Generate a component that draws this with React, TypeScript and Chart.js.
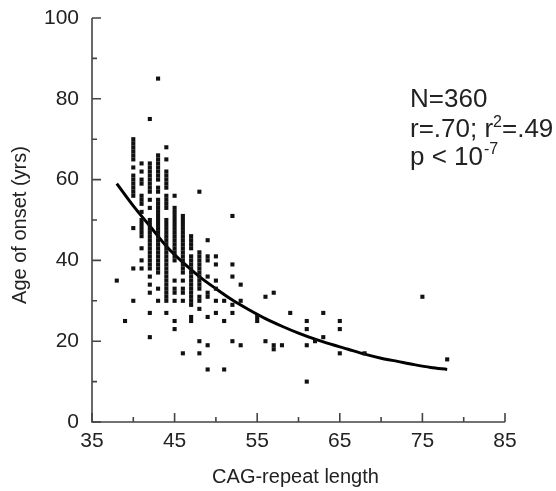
import React, { useEffect, useRef } from "react";
import { Chart, registerables } from "chart.js";

Chart.register(...registerables);

// CAG-repeat length columns and the onset ages read at each column
const repeatColumns = [38, 39, 40, 41, 42, 43, 44, 45, 46, 47, 48, 49, 50, 51, 52, 53, 55, 56, 57, 58, 59, 61, 62, 63, 65, 68, 75, 78];
const onsetAgesByRepeat = [
  [35],
  [25],
  [70, 69, 68, 67, 66, 65, 63, 61, 60, 59, 58, 57, 56, 48, 38, 30],
  [64, 62, 60, 59, 56, 55, 54, 52, 50, 49, 48, 47, 46, 43, 40, 38],
  [75, 64, 63, 62, 61, 60, 59, 58, 57, 55, 53, 50, 49, 48, 47, 46, 45, 44, 43, 42, 41, 40, 39, 38, 36, 34, 32, 27, 21],
  [85, 66, 65, 64, 63, 62, 61, 60, 58, 57, 55, 54, 53, 52, 51, 50, 49, 48, 47, 46, 45, 44, 43, 42, 41, 40, 39, 38, 37, 33, 30],
  [68, 65, 62, 61, 60, 59, 58, 56, 55, 54, 53, 50, 49, 48, 47, 46, 45, 44, 43, 42, 41, 40, 39, 38, 37, 36, 35, 34, 33, 32, 31, 30, 27],
  [56, 53, 52, 51, 50, 49, 48, 47, 46, 45, 44, 43, 42, 41, 40, 35, 33, 32, 30, 25, 23],
  [51, 50, 49, 48, 47, 46, 45, 44, 43, 42, 41, 40, 39, 38, 37, 35, 33, 32, 30, 17],
  [46, 45, 44, 43, 41, 40, 39, 38, 37, 36, 35, 34, 33, 32, 31, 30, 29, 26, 25],
  [57, 42, 41, 40, 39, 38, 37, 36, 35, 34, 33, 31, 30, 28, 20, 17],
  [45, 41, 40, 36, 32, 31, 26, 19, 13],
  [41, 39, 35, 33, 30, 27],
  [30, 25, 13],
  [51, 39, 36, 29, 27, 20],
  [34, 30, 19],
  [26, 25],
  [31, 20],
  [32, 19, 18],
  [19],
  [27],
  [25, 23, 19, 10],
  [20],
  [27, 21],
  [25, 23, 17],
  [17],
  [31],
  [15.5],
];

// Fitted curve
const fitRepeat = [38, 40, 42, 44, 46, 48, 50, 52, 54, 56, 58, 60, 62, 64, 66, 68, 70, 72, 74, 76, 78];
const fitAge = [59, 53.5, 48.5, 43.5, 39.5, 36, 33, 30.2, 27.8, 25.6, 23.7, 22, 20.5, 19.2, 18, 16.8, 15.8, 15, 14.2, 13.5, 13];

const xTicks = [35, 45, 55, 65, 75, 85];
const xMinorTicks = [40, 50, 60, 70, 80];
const yTicks = [0, 20, 40, 60, 80, 100];
const yMinorTicks = [10, 30, 50, 70, 90];

const xTitle = "CAG-repeat length";
const yTitle = "Age of onset (yrs)";

const FONT = '"Liberation Sans", Arial, Helvetica, sans-serif';

const axesPlugin = {
  id: "paperAxes",
  afterDraw(chart: any) {
    const ctx = chart.ctx as CanvasRenderingContext2D;
    const xs = chart.scales.x;
    const ys = chart.scales.y;
    const left = xs.getPixelForValue(35);
    const right = xs.getPixelForValue(85);
    const bottom = ys.getPixelForValue(0);
    const top = ys.getPixelForValue(100);
    ctx.save();
    ctx.strokeStyle = "#444";
    ctx.lineWidth = 1.6;
    ctx.beginPath();
    ctx.moveTo(left, top);
    ctx.lineTo(left, bottom);
    ctx.lineTo(right, bottom);
    ctx.stroke();
    ctx.beginPath();
    xTicks.forEach((v) => {
      const px = xs.getPixelForValue(v);
      ctx.moveTo(px, bottom);
      ctx.lineTo(px, bottom - 9);
    });
    xMinorTicks.forEach((v) => {
      const px = xs.getPixelForValue(v);
      ctx.moveTo(px, bottom);
      ctx.lineTo(px, bottom - 5);
    });
    yTicks.forEach((v) => {
      const py = ys.getPixelForValue(v);
      ctx.moveTo(left, py);
      ctx.lineTo(left + 9, py);
    });
    yMinorTicks.forEach((v) => {
      const py = ys.getPixelForValue(v);
      ctx.moveTo(left, py);
      ctx.lineTo(left + 5, py);
    });
    ctx.stroke();

    ctx.fillStyle = "#222";
    ctx.font = `21px ${FONT}`;
    ctx.textAlign = "center";
    ctx.textBaseline = "middle";
    xTicks.forEach((v) => {
      ctx.fillText(String(v), xs.getPixelForValue(v), bottom + 19);
    });
    ctx.textAlign = "right";
    yTicks.forEach((v) => {
      ctx.fillText(String(v), left - 13, ys.getPixelForValue(v));
    });

    ctx.font = `20px ${FONT}`;
    ctx.textAlign = "center";
    ctx.fillText(xTitle, (left + right) / 2 - 3, bottom + 55);
    ctx.save();
    ctx.translate(20, (top + bottom) / 2 + 5);
    ctx.rotate(-Math.PI / 2);
    ctx.fillText(yTitle, 0, 0);
    ctx.restore();

    // statistics annotation
    ctx.textAlign = "left";
    ctx.textBaseline = "alphabetic";
    const tx = 410;
    const big = `26px ${FONT}`;
    const small = `16px ${FONT}`;
    ctx.font = big;
    ctx.fillText("N=360", tx, 107);
    let x = tx;
    const seg = (t: string, f: string, dy: number, y: number) => {
      ctx.font = f;
      ctx.fillText(t, x, y + dy);
      x += ctx.measureText(t).width;
    };
    seg("r=.70; r", big, 0, 137);
    seg("2", small, -10, 137);
    seg("=.49", big, 0, 137);
    x = tx;
    seg("p < 10", big, 0, 165);
    x += 1;
    seg("-7", small, -11, 165);
    ctx.restore();
  },
};

export default function App() {
  const canvasRef = useRef<HTMLCanvasElement | null>(null);

  useEffect(() => {
    document.body.style.margin = "0";
    const canvas = canvasRef.current;
    if (!canvas) return;
    const points: { x: number; y: number }[] = [];
    repeatColumns.forEach((r, i) => {
      onsetAgesByRepeat[i].forEach((a) => points.push({ x: r, y: a }));
    });
    const curve = fitRepeat.map((r, i) => ({ x: r, y: fitAge[i] }));

    const chart = new Chart(canvas, {
      type: "scatter",
      data: {
        datasets: [
          {
            type: "scatter",
            data: points,
            pointStyle: "rect",
            pointRadius: 2.9,
            pointBorderWidth: 0,
            backgroundColor: "#111",
            borderColor: "#111",
          },
          {
            type: "line",
            data: curve,
            showLine: true,
            pointRadius: 0,
            borderColor: "#000",
            borderWidth: 3,
            cubicInterpolationMode: "monotone",
            fill: false,
          },
        ],
      } as any,
      options: {
        responsive: false,
        animation: false,
        devicePixelRatio: 1,
        layout: { padding: { left: 92, right: 51, top: 18, bottom: 69 } },
        plugins: { legend: { display: false }, tooltip: { enabled: false } },
        scales: {
          x: { type: "linear", min: 35, max: 85, display: false },
          y: { type: "linear", min: 0, max: 100, display: false },
        },
      },
      plugins: [axesPlugin],
    });
    return () => chart.destroy();
  }, []);

  return (
    <div style={{ width: 556, height: 491, background: "#fff" }}>
      <canvas ref={canvasRef} width={556} height={491} style={{ display: "block" }} />
    </div>
  );
}
